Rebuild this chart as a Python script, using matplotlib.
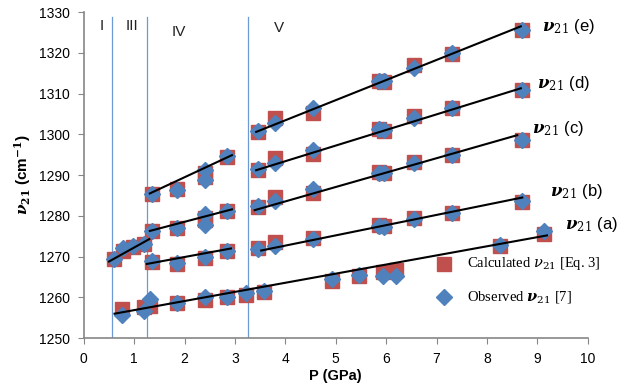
import numpy as np
import matplotlib
matplotlib.use('Agg')
import matplotlib.pyplot as plt

plt.rcParams['font.family'] = ['Liberation Sans', 'DejaVu Sans']
plt.rcParams['mathtext.fontset'] = 'dejavuserif'

# =============================================================================
# DATA
# =============================================================================

# phase boundaries (GPa) and region labels
bounds = [0.55, 1.25, 3.25]
region_labels = ['I', 'III', 'IV', 'V']
region_x = [0.32, 0.83, 1.75, 3.78]
region_y = [1326.5, 1326.5, 1325.2, 1326.2]

# region I/III
p_low = [0.6, 0.78, 0.98, 1.2]
calc_low = [1269.5, 1271.5, 1272.3, 1273.0]
obs_low = [1269.4, 1272.0, 1272.6, 1273.2]

# region IV, three rows
p_iv = [1.35, 1.85, 2.4, 2.4, 2.85]
calc_iv_top = [1285.3, 1286.5, 1290.6, 1289.6, 1294.5]
obs_iv_top = [1285.3, 1286.3, 1291.3, 1288.8, 1294.7]
calc_iv_mid = [1276.3, 1277.0, 1279.5, 1279.0, 1281.3]
obs_iv_mid = [1276.3, 1277.0, 1280.5, 1277.8, 1281.2]
p_iv_bot = [1.35, 1.85, 2.4, 2.85]
calc_iv_bot = [1268.8, 1268.3, 1269.7, 1271.3]
obs_iv_bot = [1268.9, 1268.4, 1269.8, 1271.3]

# nu21 (a), whole range
p_a = [0.75, 1.2, 1.32, 1.85, 2.4, 2.85, 3.22, 3.58, 4.92, 5.47, 5.94, 6.2, 8.25, 9.13]
calc_a = [1257.2, 1257.7, 1258.0, 1258.5, 1259.3, 1260.0, 1260.5, 1261.3,
          1264.0, 1265.3, 1266.3, 1266.7, 1272.5, 1275.5]
obs_a = [1255.7, 1256.6, 1259.5, 1258.7, 1260.0, 1260.2, 1261.0, 1261.6,
         1264.6, 1265.4, 1265.2, 1265.3, 1272.8, 1276.4]

# region V, rows (b)-(e)
p_v = [3.45, 3.8, 4.55, 5.85, 5.95, 6.55, 7.3, 8.7]
calc_b = [1272.0, 1273.6, 1274.6, 1277.7, 1277.4, 1279.4, 1280.6, 1283.3]
obs_b = [1271.8, 1272.7, 1274.4, 1277.4, 1277.3, 1279.3, 1280.6, 1283.6]
calc_c = [1282.2, 1284.7, 1285.5, 1290.8, 1290.5, 1293.3, 1295.0, 1298.6]
obs_c = [1282.4, 1283.6, 1286.5, 1290.5, 1290.6, 1293.0, 1295.0, 1298.6]
calc_d = [1291.2, 1294.3, 1295.2, 1301.3, 1300.8, 1304.5, 1306.5, 1311.0]
obs_d = [1291.4, 1293.0, 1296.2, 1301.2, 1301.0, 1304.0, 1306.5, 1311.0]
calc_e = [1300.6, 1304.0, 1305.2, 1313.2, 1312.8, 1317.0, 1319.6, 1325.5]
obs_e = [1300.8, 1302.7, 1306.5, 1313.0, 1313.0, 1316.3, 1320.0, 1325.6]

# fitted lines: (P start, P end), (nu start, nu end)
fits = [
    ([0.5, 1.3], [1268.8, 1274.3]),
    ([1.31, 2.94], [1285.5, 1294.9]),
    ([1.31, 2.94], [1276.3, 1281.6]),
    ([1.25, 2.92], [1268.2, 1272.0]),
    ([0.61, 9.19], [1256.0, 1275.2]),
    ([3.52, 8.7], [1271.5, 1284.5]),
    ([3.39, 8.6], [1281.4, 1299.8]),
    ([3.42, 8.67], [1291.2, 1311.3]),
    ([3.42, 8.67], [1300.6, 1326.5]),
]

series_names = ['(e)', '(d)', '(c)', '(b)', '(a)']
name_x = [9.1, 9.0, 8.9, 9.25, 9.55]
name_y = [1326.5, 1312.5, 1301.5, 1286.0, 1278.0]

# =============================================================================
# PLOT
# =============================================================================

red = '#C0504D'
blue = '#4F81BD'
grey = '#868686'

fig = plt.figure(figsize=(6.3, 3.9), dpi=100)
ax = fig.add_axes([0.133, 0.133, 0.8, 0.836])

p_calc = [p_low, p_iv, p_iv, p_iv_bot, p_a, p_v, p_v, p_v, p_v]
v_calc = [calc_low, calc_iv_top, calc_iv_mid, calc_iv_bot, calc_a, calc_b, calc_c, calc_d, calc_e]
v_obs = [obs_low, obs_iv_top, obs_iv_mid, obs_iv_bot, obs_a, obs_b, obs_c, obs_d, obs_e]

for p, v in zip(p_calc, v_calc):
    ax.plot(p, v, ls='none', marker='s', ms=10.5, color=red, mec=red, zorder=2)
for p, v in zip(p_calc, v_obs):
    ax.plot(p, v, ls='none', marker='D', ms=8, color=blue, mec=blue, zorder=3)
for px, pv in fits:
    ax.plot(px, pv, color='black', lw=1.5, zorder=4)

for b in bounds:
    ax.plot([b, b], [1250, 1328.8], color='#6C9AD4', lw=0.9, zorder=1)

for lab, x, y in zip(region_labels, region_x, region_y):
    ax.text(x, y, lab, fontsize=11, ha='left', va='center', color='#222222')

for name, x, y in zip(series_names, name_x, name_y):
    ax.text(x, y, r'$\boldsymbol{\nu}_{21}$ ' + name, fontsize=12, ha='left',
            va='center', color='black')

# legend
lx = [7.15, 7.15]
ly = [1268.2, 1260.0]
ax.plot(lx[0], ly[0], ls='none', marker='s', ms=10.5, color=red, zorder=2)
ax.plot(lx[1], ly[1], ls='none', marker='D', ms=8, color=blue, zorder=3)
ax.text(7.6, ly[0], r'Calculated $\nu_{21}$ [Eq. 3]', fontsize=10.5,
        family='Liberation Serif', va='center')
ax.text(7.6, ly[1], r'Observed $\boldsymbol{\nu}_{21}$ [7]', fontsize=10.5,
        family='Liberation Serif', va='center')

ax.set_xlim(0, 10)
ax.set_ylim(1250, 1330)
ax.set_xticks(np.arange(0, 11, 1))
ax.set_yticks(np.arange(1250, 1331, 10))
for s in ['top', 'right']:
    ax.spines[s].set_visible(False)
for s in ['left', 'bottom']:
    ax.spines[s].set_color(grey)
    ax.spines[s].set_linewidth(1.2)
ax.tick_params(axis='both', direction='out', length=4, color=grey,
               labelsize=10, pad=6)

ax.set_xlabel('P (GPa)', fontsize=10.5, fontweight='bold', labelpad=2)
ax.set_ylabel(r'$\boldsymbol{\nu}_{\mathbf{21}}$ (cm$^{\mathbf{-1}}$)',
              fontsize=11, fontweight='bold', labelpad=4)

plt.savefig('out.png', dpi=100)
